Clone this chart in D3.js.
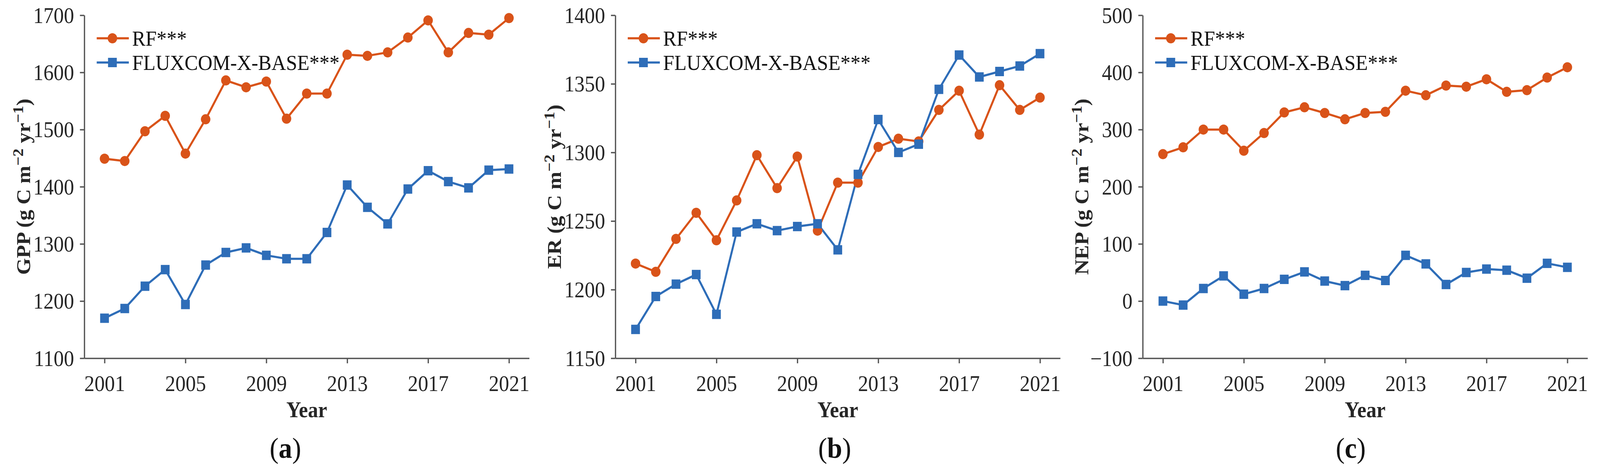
<!DOCTYPE html>
<html>
<head>
<meta charset="utf-8">
<script src="https://cdn.jsdelivr.net/npm/d3@7"></script>
<style>
  html, body { margin: 0; padding: 0; background: #fff; overflow: hidden; width: 100%; height: 100%; }
  svg { display: block; width: 100vw; height: 100vh; }
  text { font-family: "Liberation Serif", "Times New Roman", serif; }
</style>
</head>
<body>
<svg id="chart" viewBox="0 0 4384 1198" preserveAspectRatio="none"></svg>
<script>
// ---- data ----
const years = [2001,2002,2003,2004,2005,2006,2007,2008,2009,2010,2011,2012,2013,2014,2015,2016,2017,2018,2019,2020,2021];
const xTicks = [2001,2005,2009,2013,2017,2021];
const seriesNames = ["RF***", "FLUXCOM-X-BASE***"];

const gppRF   = [1449,1445,1497,1524,1458,1518,1586,1574,1584,1519,1563,1563,1631,1629,1635,1661,1691,1635,1669,1666,1695];
const gppFlux = [1170,1187,1226,1255,1194,1263,1285,1293,1280,1274,1274,1320,1403,1364,1335,1396,1428,1409,1398,1429,1431];
const erRF    = [1219,1213,1237,1256,1236,1265,1298,1274,1297,1243,1278,1278,1304,1310,1308,1331,1345,1313,1349,1331,1340];
const erFlux  = [1171,1195,1204,1211,1182,1242,1248,1243,1246,1248,1229,1284,1324,1300,1306,1346,1371,1355,1359,1363,1372];
const nepRF   = [257,269,300,300,263,294,330,339,329,318,329,331,368,360,377,375,388,366,369,391,409];
const nepFlux = [0,-7,22,44,12,22,38,51,35,27,45,36,80,65,29,50,56,54,40,66,59];

const gppTicks = [1100,1200,1300,1400,1500,1600,1700];
const erTicks  = [1150,1200,1250,1300,1350,1400];
const nepTicks = [-100,0,100,200,300,400,500];

const panelLabels = ["a", "b", "c"];
const yNames = ["GPP", "ER", "NEP"];

// ---- style ----
const ORANGE = "#D95319";
const BLUE = "#2E6DB8";
const AXIS = "#555555";
const TXT = "#262626";
const FS = 56;

const panels = [
  { off: 0,    rf: gppRF, flux: gppFlux, ticks: gppTicks, name: yNames[0], label: panelLabels[0], labX: 782 },
  { off: 1455, rf: erRF,  flux: erFlux,  ticks: erTicks,  name: yNames[1], label: panelLabels[1], labX: 832 },
  { off: 2900, rf: nepRF, flux: nepFlux, ticks: nepTicks, name: yNames[2], label: panelLabels[2], labX: 801 }
];

const svg = d3.select("#chart");
svg.append("rect").attr("width", 4384).attr("height", 1198).attr("fill", "#fff");

const L = 231, R = 1450, T = 39, B = 917;

panels.forEach(p => {
  const g = svg.append("g").attr("transform", `translate(${p.off},0)`);
  const x = d3.scaleLinear().domain([2000, 2022]).range([L, R]);
  const y = d3.scaleLinear().domain([p.ticks[0], p.ticks[p.ticks.length - 1]]).range([B, T]);

  // axes
  const xa = g.append("g").attr("transform", `translate(0,${B})`)
    .call(d3.axisBottom(x).tickValues(xTicks).tickFormat(d3.format("d")).tickSize(13).tickSizeOuter(0));
  xa.selectAll("text").attr("y", 84).attr("dy", null)
    .attr("font-size", FS).attr("fill", TXT).attr("font-family", "Liberation Serif, serif");

  const ya = g.append("g").attr("transform", `translate(${L},0)`)
    .call(d3.axisLeft(y).tickValues(p.ticks).tickFormat(d3.format("d")).tickSize(12).tickPadding(16).tickSizeOuter(0));
  ya.selectAll("text").attr("font-size", FS).attr("fill", TXT).attr("dy", "0.34em")
    .attr("font-family", "Liberation Serif, serif");

  [xa, ya].forEach(a => {
    a.select(".domain").attr("stroke", AXIS).attr("stroke-width", 3.5);
    a.selectAll(".tick line").attr("stroke", AXIS).attr("stroke-width", 3.5);
  });

  // lines
  const line = d3.line().x((d, i) => x(years[i])).y(d => y(d));
  g.append("path").datum(p.rf).attr("d", line).attr("fill", "none")
    .attr("stroke", ORANGE).attr("stroke-width", 5.5).attr("stroke-linejoin", "round");
  g.append("path").datum(p.flux).attr("d", line).attr("fill", "none")
    .attr("stroke", BLUE).attr("stroke-width", 5.5).attr("stroke-linejoin", "round");

  // markers
  g.selectAll("circle.rf").data(p.rf).join("circle").attr("class", "rf")
    .attr("cx", (d, i) => x(years[i])).attr("cy", d => y(d)).attr("r", 13).attr("fill", ORANGE);
  const sq = 24;
  g.selectAll("rect.fx").data(p.flux).join("rect").attr("class", "fx")
    .attr("x", (d, i) => x(years[i]) - sq / 2).attr("y", d => y(d) - sq / 2)
    .attr("width", sq).attr("height", sq).attr("fill", BLUE);

  // legend
  const leg = [
    { name: seriesNames[0], color: ORANGE, yy: 98, shape: "circle" },
    { name: seriesNames[1], color: BLUE, yy: 160, shape: "square" }
  ];
  leg.forEach(l => {
    g.append("line").attr("x1", 265).attr("x2", 353).attr("y1", l.yy).attr("y2", l.yy)
      .attr("stroke", l.color).attr("stroke-width", 5.5);
    if (l.shape === "circle") {
      g.append("circle").attr("cx", 308).attr("cy", l.yy).attr("r", 13).attr("fill", l.color);
    } else {
      g.append("rect").attr("x", 308 - sq / 2).attr("y", l.yy - sq / 2).attr("width", sq).attr("height", sq).attr("fill", l.color);
    }
    g.append("text").attr("x", 362).attr("y", l.yy + 19).attr("font-size", 55).attr("fill", "#111").text(l.name);
  });

  // y axis title
  const yt = g.append("text").attr("transform", `translate(82,${(T + B) / 2}) rotate(-90)`)
    .attr("text-anchor", "middle").attr("font-size", 55).attr("font-weight", "bold").attr("fill", TXT);
  yt.append("tspan").text(`${p.name} (g C m`);
  yt.append("tspan").attr("font-size", 41).attr("baseline-shift", "45%").text("\u22122");
  yt.append("tspan").text(" yr");
  yt.append("tspan").attr("font-size", 41).attr("baseline-shift", "45%").text("\u22121");
  yt.append("tspan").text(")");

  // x axis title
  g.append("text").attr("x", (L + R) / 2).attr("y", 1068).attr("text-anchor", "middle")
    .attr("font-size", 56).attr("font-weight", "bold").attr("fill", TXT).text("Year");

  // panel label
  const pl = g.append("text").attr("x", p.labX).attr("y", 1172).attr("text-anchor", "middle")
    .attr("font-size", 74).attr("fill", "#111");
  pl.append("tspan").text("(");
  pl.append("tspan").attr("font-weight", "bold").text(p.label);
  pl.append("tspan").text(")");
});
</script>
</body>
</html>
